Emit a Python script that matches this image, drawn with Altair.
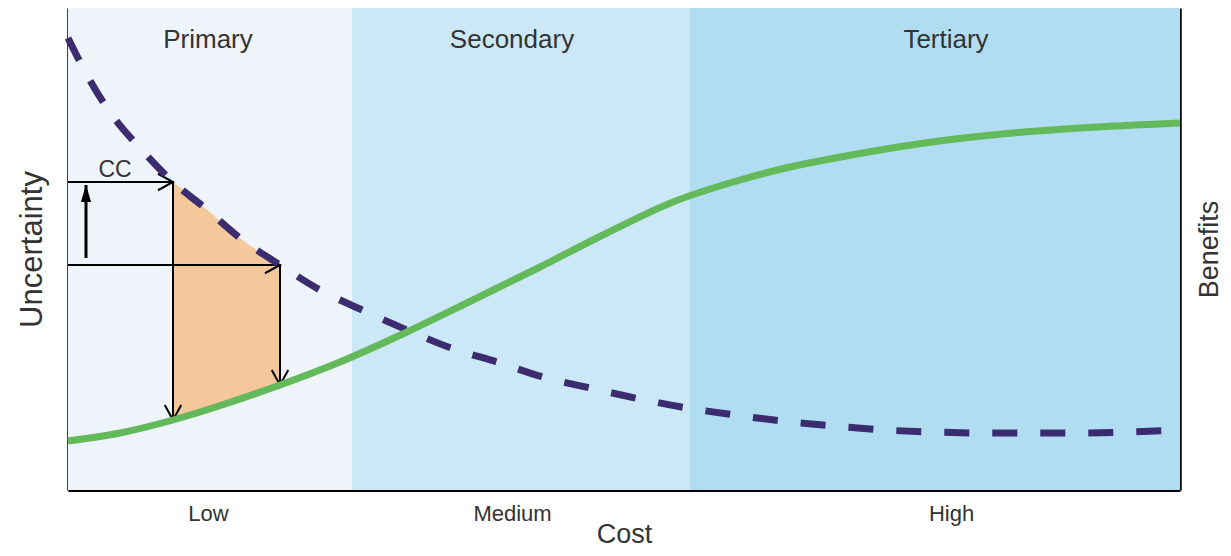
import altair as alt
import pandas as pd

# ---- data ----
band_names = ["Primary", "Secondary", "Tertiary"]
band_start = [0, 284, 622]
band_end = [284, 622, 1112]
band_label_x = [140, 444, 878]
band_label_y = [450, 450, 450]
band_colors = ["#eef4fa", "#cce8f6", "#b1ddf3"]
band_bottom = [0, 0, 0]
band_top = [482, 482, 482]

cost_levels = ["Low", "Medium", "High"]
cost_level_x = [140, 444, 883]

unc_x = [0, 20, 44, 72, 105, 137, 172, 212, 252, 294, 339, 383, 429, 475, 522,
         572, 619, 667, 714, 767, 817, 864, 914, 962, 1012, 1062, 1112]
unc_y = [452, 413, 375, 342, 308, 282, 252, 225, 200, 180, 160, 142, 128, 113, 102,
         91, 82, 75, 69, 64, 60, 58, 57, 57, 57, 58, 60]

ben_x = [0, 52, 105, 157, 212, 272, 339, 405, 472, 539, 605, 672, 722, 762, 812,
         879, 945, 1012, 1112]
ben_y = [49, 57, 70, 86, 105, 128, 158, 190, 223, 257, 288, 310, 323, 331, 340,
         350, 357, 362, 367]

area_x = [105, 137, 172, 212]
area_low = [70, 80, 92, 105]
area_high = [308, 282, 252, 225]

h_arrow_y = [308, 225]
h_arrow_x0 = [0, 0]
h_arrow_x1 = [105, 212]

v_arrow_x = [105, 212]
v_arrow_y0 = [308, 225]
v_arrow_y1 = [70, 105]

up_arrow_x = [18]
up_arrow_y0 = [232]
up_arrow_y1 = [305]

cc_label = ["CC"]
cc_x = [47]
cc_y = [320]

# ---- tables ----
bands = pd.DataFrame({"name": band_names, "x0": band_start, "x1": band_end,
                      "lx": band_label_x, "ly": band_label_y, "color": band_colors,
                      "yb": band_bottom, "yt": band_top})
unc = pd.DataFrame({"x": unc_x, "y": unc_y})
ben = pd.DataFrame({"x": ben_x, "y": ben_y})
area = pd.DataFrame({"x": area_x, "lo": area_low, "hi": area_high})
harr = pd.DataFrame({"y": h_arrow_y, "x0": h_arrow_x0, "x1": h_arrow_x1})
varr = pd.DataFrame({"x": v_arrow_x, "y0": v_arrow_y0, "y1": v_arrow_y1})
uarr = pd.DataFrame({"x": up_arrow_x, "y0": up_arrow_y0, "y1": up_arrow_y1})
cc = pd.DataFrame({"t": cc_label, "x": cc_x, "y": cc_y})

XD = [0, 1112]
YD = [0, 482]
FONT = "Liberation Sans"

label_expr = " : ".join(
    [f"datum.value == {v} ? '{n}'" for v, n in zip(cost_level_x[:-1], cost_levels[:-1])]
) + f" : '{cost_levels[-1]}'"

x_axis = alt.Axis(values=cost_level_x, labelExpr=label_expr, ticks=False, grid=False,
                  domainColor="black", domainWidth=3, labelFontSize=22,
                  labelColor="#333333", labelFont=FONT, labelPadding=13,
                  title="Cost", titleFontSize=27, titleFont=FONT, titleColor="#333333",
                  titleFontWeight="normal", titlePadding=-3)
left_axis = alt.Axis(orient="left", title="Uncertainty", labels=False, ticks=False,
                     grid=False, domainColor="black", domainWidth=2.5, titleFontSize=31,
                     titleFont=FONT, titleColor="#333333", titleFontWeight="normal",
                     titlePadding=20)
right_axis = alt.Axis(orient="right", title="Benefits", labels=False, ticks=False,
                      grid=False, domainColor="black", domainWidth=2.5, titleFontSize=27,
                      titleFont=FONT, titleColor="#333333", titleFontWeight="normal",
                      titleAngle=270, titleBaseline="top", titlePadding=16)


def X(field):
    return alt.X(field, scale=alt.Scale(domain=XD, nice=False, zero=False), axis=x_axis)


def Y(field, axis=left_axis):
    return alt.Y(field, scale=alt.Scale(domain=YD, nice=False, zero=False), axis=axis)


band_rect = alt.Chart(bands).mark_rect().encode(
    x=X("x0:Q"), x2="x1:Q", y=Y("yb:Q"), y2="yt:Q",
    color=alt.Color("color:N", scale=None, legend=None),
)
band_text = alt.Chart(bands).mark_text(fontSize=26, font=FONT, color="#333333").encode(
    x=X("lx:Q"), y=Y("ly:Q"), text="name:N",
)
orange = alt.Chart(area).mark_area(color="#f5c89b", opacity=1, interpolate="monotone").encode(
    x=X("x:Q"), y=Y("lo:Q"), y2="hi:Q",
)
hrules = alt.Chart(harr).mark_rule(color="black", strokeWidth=2).encode(
    x=X("x0:Q"), x2="x1:Q", y=Y("y:Q"),
)
hheads = alt.Chart(harr).mark_point(shape="M-1,-0.55L0,0L-1,0.55", filled=False,
                                    color="black", strokeWidth=2, size=900, opacity=1).encode(
    x=X("x1:Q"), y=Y("y:Q"),
)
vrules = alt.Chart(varr).mark_rule(color="black", strokeWidth=2).encode(
    x=X("x:Q"), y=Y("y0:Q"), y2="y1:Q",
)
vheads = alt.Chart(varr).mark_point(shape="M-1,-0.55L0,0L-1,0.55", filled=False, angle=90,
                                    color="black", strokeWidth=2, size=900, opacity=1).encode(
    x=X("x:Q"), y=Y("y1:Q"),
)
urule = alt.Chart(uarr).mark_rule(color="black", strokeWidth=3).encode(
    x=X("x:Q"), y=Y("y0:Q"), y2="y1:Q",
)
uhead = alt.Chart(uarr).mark_point(shape="M0,0L-0.3,1L0.3,1Z", filled=True,
                                   color="black", size=1156, opacity=1).encode(
    x=X("x:Q"), y=Y("y1:Q"),
)
cc_text = alt.Chart(cc).mark_text(fontSize=23, font=FONT, color="#333333").encode(
    x=X("x:Q"), y=Y("y:Q"), text="t:N",
)
dashed = alt.Chart(unc).mark_line(color="#3a2c6e", strokeWidth=7, strokeDash=[25, 23],
                                  interpolate="monotone").encode(
    x=X("x:Q"), y=Y("y:Q"),
)
inner = alt.layer(band_rect, band_text, orange, hrules, vrules, urule, uhead,
                  hheads, vheads, cc_text, dashed)

green = alt.Chart(ben).mark_line(color="#64b95a", strokeWidth=7, interpolate="monotone").encode(
    x=X("x:Q"), y=Y("y:Q", axis=right_axis),
)

chart = alt.layer(inner, green).resolve_scale(y="independent").properties(
    width=1112, height=482,
    autosize=alt.AutoSizeParams(type="none"),
    padding={"left": 60, "top": 0, "right": 43, "bottom": 58},
).configure_view(stroke=None)

chart.save("out.html", embed_options={"renderer": "svg", "actions": False})
